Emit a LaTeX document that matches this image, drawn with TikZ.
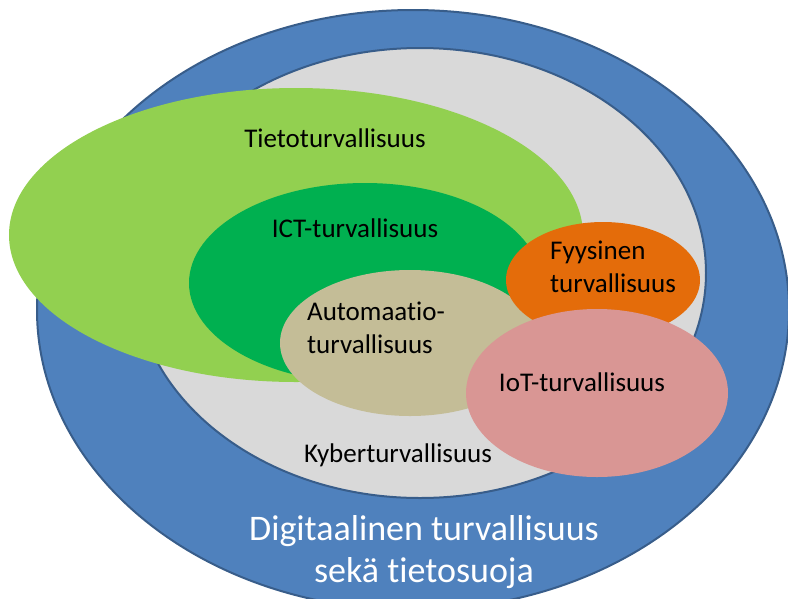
\documentclass[tikz,border=0pt]{standalone}
\usepackage{fontspec}
\setmainfont[Ligatures=NoCommon]{Carlito}
\definecolor{ringblue}{HTML}{4F81BD}
\definecolor{ringedge}{HTML}{385D8A}
\definecolor{cybergray}{HTML}{D9D9D9}
\definecolor{infogreen}{HTML}{92D050}
\definecolor{ictgreen}{HTML}{00B050}
\definecolor{autotan}{HTML}{C4BD97}
\definecolor{physorange}{HTML}{E46C0A}
\definecolor{iotpink}{HTML}{D99694}
\newcommand{\lblsize}{\fontsize{27}{33}\selectfont}
\newcommand{\bigsize}{\fontsize{36}{42}\selectfont}

\begin{document}
\begin{tikzpicture}[x=1pt,y=-1pt,every node/.style={font=\lblsize}]
  \clip (0,0) rectangle (788,598);
  \fill[white] (0,0) rectangle (788,598);
  % rings
  \draw[ringedge,line width=2pt,fill=ringblue] (413,310) ellipse (376 and 300);
  \draw[ringedge,line width=2pt,fill=cybergray] (420,273) ellipse (286 and 225);
  % domains
  \fill[infogreen] (296,235) ellipse (287 and 147);
  \fill[ictgreen] (365,283) ellipse (176 and 100);
  \fill[autotan] (410,343) ellipse (130 and 73);
  \fill[physorange] (603,280) ellipse (97 and 58);
  \fill[iotpink] (597,393) ellipse (131 and 84);
  % labels
  \node[anchor=base] (tieto) at (335,147) {Tietoturvallisuus};
  \node[anchor=base] (ict) at (355,237) {ICT-turvallisuus};
  \node[align=left] (fyys) at (613,267) {Fyysinen\\turvallisuus};
  \node[align=left] (auto) at (376,328) {Automaatio-\\turvallisuus};
  \node[anchor=base] (iot) at (582,391) {IoT-turvallisuus};
  \node[anchor=base] (kyber) at (398,462) {Kyberturvallisuus};
  \node[white,align=center,font=\bigsize] (digi) at (424,552) {Digitaalinen turvallisuus\\sekä tietosuoja};
\end{tikzpicture}
\end{document}
